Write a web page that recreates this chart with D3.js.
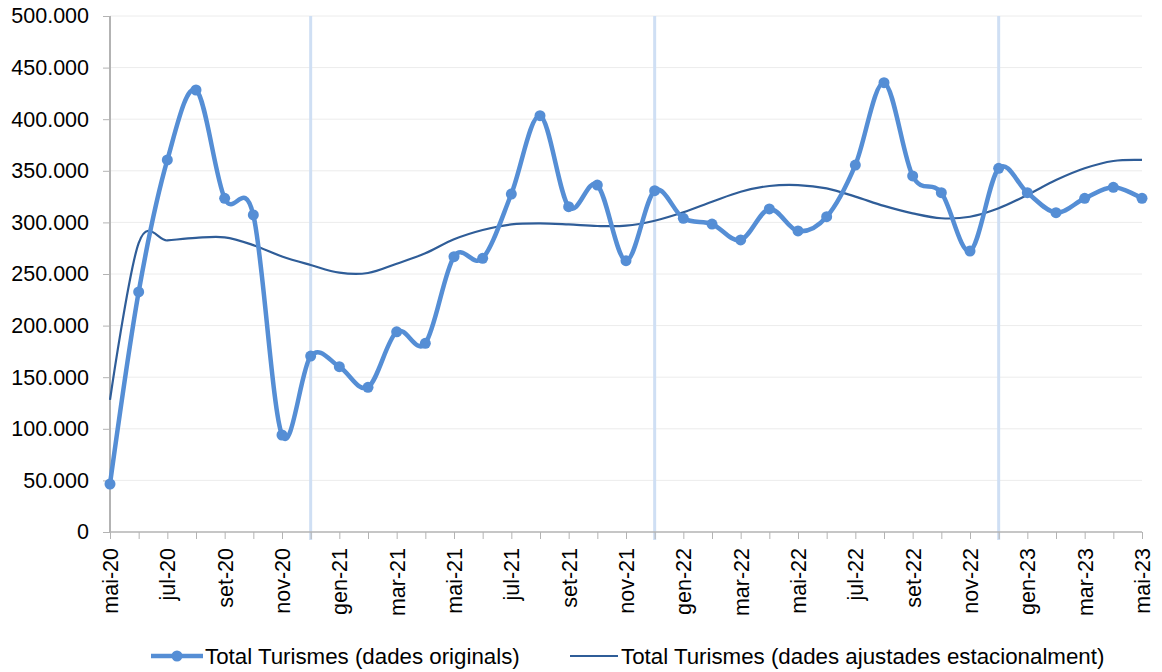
<!DOCTYPE html>
<html><head><meta charset="utf-8">
<script src="https://cdn.jsdelivr.net/npm/d3@7"></script>
<style>body{margin:0;background:#fff}svg{display:block}text{font-family:"Liberation Sans",Arial,sans-serif;fill:#000}</style>
</head><body><svg id="c" width="1162" height="672"></svg>
<script>
const months = ["mai-20","jun-20","jul-20","ago-20","set-20","oct-20","nov-20","des-20","gen-21","feb-21","mar-21","abr-21","mai-21","jun-21","jul-21","ago-21","set-21","oct-21","nov-21","des-21","gen-22","feb-22","mar-22","abr-22","mai-22","jun-22","jul-22","ago-22","set-22","oct-22","nov-22","des-22","gen-23","feb-23","mar-23","abr-23","mai-23"];
const original = [46500,232600,360500,428300,323300,307200,94000,170500,160200,140200,194000,182800,266800,265200,327500,403400,315200,336200,262900,330700,304000,298400,283000,313000,291700,305500,355600,435400,345000,328800,272300,352400,328800,309400,323300,334000,323300];
const adjusted = [128000,280000,282500,285000,285500,278000,267000,258700,251300,251000,260000,270000,283600,292600,298000,299000,298000,296500,296800,301600,309800,320000,329700,335300,336200,333000,325000,316000,308800,304000,305500,313700,326600,341000,352400,359500,360500];
const yTicks = [0,50000,100000,150000,200000,250000,300000,350000,400000,450000,500000];
const yearMarks = ["des-20","des-21","des-22"];
const seriesNames = ["Total Turismes (dades originals)","Total Turismes (dades ajustades estacionalment)"];

const svg = d3.select("#c");
const L=110,R=1142,T=16,B=532;
const x = d3.scalePoint().domain(months).range([L,R]);
const y = d3.scaleLinear().domain([0,500000]).range([B,T]);
const fmt = v => d3.format(",")(v).replace(/,/g,".");

// gridlines
svg.append("g").selectAll("line").data(yTicks.filter(d=>d>0)).join("line")
  .attr("x1",L).attr("x2",R).attr("y1",d=>y(d)).attr("y2",d=>y(d))
  .attr("stroke","#ececec").attr("stroke-width",1);

// year separators
svg.append("g").selectAll("line").data(yearMarks).join("line")
  .attr("x1",d=>x(d)).attr("x2",d=>x(d)).attr("y1",T).attr("y2",B+8)
  .attr("stroke","#cfdff4").attr("stroke-width",3);

// y axis
const ya = svg.append("g").attr("transform",`translate(${L},0)`)
  .call(d3.axisLeft(y).tickValues(yTicks).tickFormat(d=>d===0?"0":fmt(d)).tickSize(7).tickPadding(14));
ya.select(".domain").attr("stroke","#b3b3b3").attr("stroke-width",2).attr("d",`M0,${T}V${B}`);
ya.selectAll(".tick line").attr("stroke","#b3b3b3");
ya.selectAll(".tick text").attr("font-size",21.5).style("font-family","Liberation Sans, Arial").attr("fill","#000");

// x axis
const labeled = new Set(months.filter((d,i)=>i%2===0));
const xa = svg.append("g").attr("transform",`translate(0,${B})`)
  .call(d3.axisBottom(x).tickSize(7).tickFormat(d=>labeled.has(d)?d:""));
xa.select(".domain").attr("stroke","#b3b3b3").attr("stroke-width",1.5).attr("d",`M${L},0H${R}`);
xa.selectAll(".tick line").attr("stroke","#b3b3b3");
xa.selectAll(".tick text").attr("font-size",21.5).style("font-family","Liberation Sans, Arial").attr("fill","#000")
  .attr("text-anchor","end").attr("transform","rotate(-90)").attr("x",-16).attr("y",0).attr("dy","0.35em");

// lines
const line = (arr)=>d3.line().x((d,i)=>x(months[i])).y(d=>y(d)).curve(d3.curveCardinal.tension(0))(arr);
svg.append("path").attr("d",line(adjusted)).attr("fill","none").attr("stroke","#2f5d98").attr("stroke-width",2.2);
svg.append("path").attr("d",line(original)).attr("fill","none").attr("stroke","#558ed5").attr("stroke-width",4.5);
svg.append("g").selectAll("circle").data(original).join("circle")
  .attr("cx",(d,i)=>x(months[i])).attr("cy",d=>y(d)).attr("r",5.5).attr("fill","#558ed5");

// legend
const lg = svg.append("g");
lg.append("line").attr("x1",151).attr("x2",203).attr("y1",656).attr("y2",656).attr("stroke","#558ed5").attr("stroke-width",4.5);
lg.append("circle").attr("cx",177).attr("cy",656).attr("r",5.5).attr("fill","#558ed5");
lg.append("text").attr("x",205).attr("y",664).attr("font-size",22.3).text(seriesNames[0]);
lg.append("line").attr("x1",570).attr("x2",618).attr("y1",656).attr("y2",656).attr("stroke","#2f5d98").attr("stroke-width",2.2);
lg.append("text").attr("x",621).attr("y",664).attr("font-size",22.3).text(seriesNames[1]);
</script></body></html>
